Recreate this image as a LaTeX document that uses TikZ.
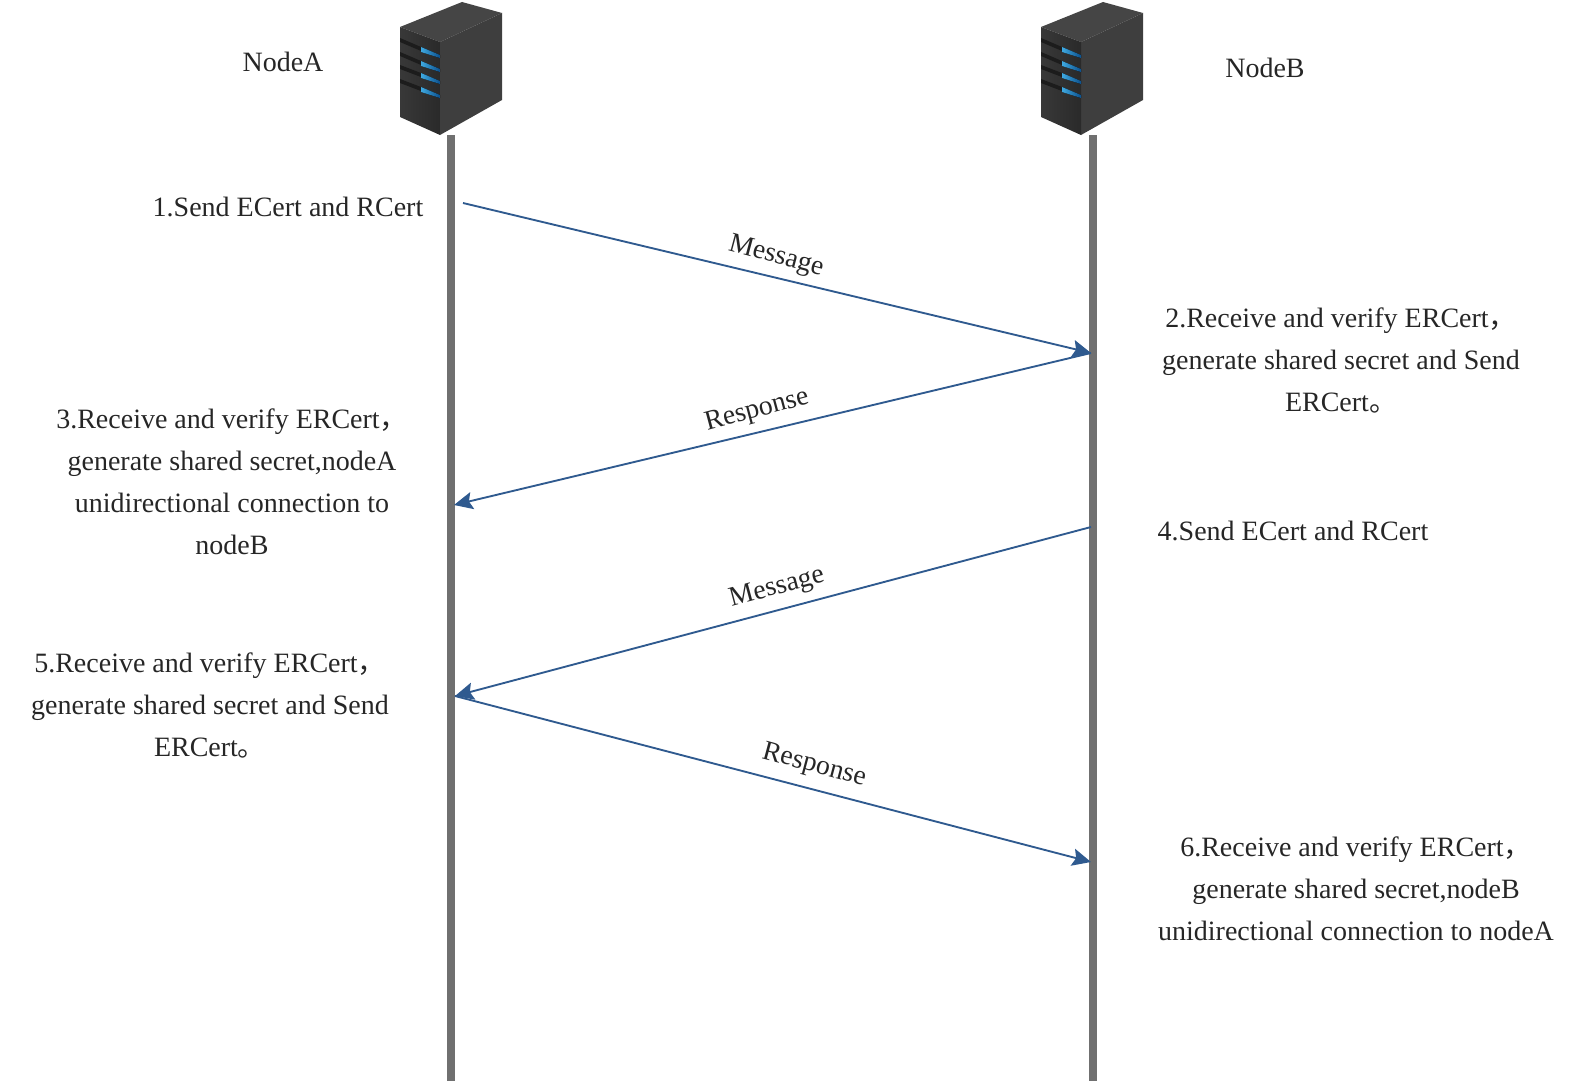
\documentclass[tikz,border=0pt]{standalone}
\usepackage{fontspec}
\setmainfont{Liberation Serif}
\newfontfamily\cjk{Noto Sans CJK SC}
\usetikzlibrary{arrows.meta}
\definecolor{txt}{HTML}{262626}
\definecolor{arrowblue}{HTML}{2F5A8F}
\definecolor{bargray}{HTML}{707070}
\definecolor{srvtop}{HTML}{454545}
\definecolor{srvside}{HTML}{3E3E3E}
\definecolor{srvfronta}{HTML}{2A2A2A}
\definecolor{srvfrontb}{HTML}{383838}
\definecolor{srvslot}{HTML}{1C1C1C}
\definecolor{ledlight}{HTML}{3FA9E0}
\definecolor{leddark}{HTML}{0B4F8C}
\newcommand{\cc}{{\cjk ，}}
\newcommand{\cp}{{\cjk 。}}
\tikzset{
  label text/.style={text=txt,font=\fontsize{21pt}{31.5pt}\selectfont,inner sep=0pt,align=center},
  msg text/.style={text=txt,font=\fontsize{20.8pt}{24pt}\selectfont,inner sep=0pt},
  lifeline/.style={draw=bargray,line width=6pt},
  msg/.style={draw=arrowblue,line width=1.4pt,-{Stealth[length=14pt,width=13pt,inset=2.5pt]}},
  slot/.style={fill=srvslot,draw=none},
  led/.style={left color=ledlight,right color=leddark,draw=none},
  pics/server/.style={code={
    \fill[srvtop] (400,27) -- (462,2) -- (502,13) -- (440,42) -- cycle;
    \fill[srvside] (440,42) -- (502,13) -- (502,100) -- (440,135) -- cycle;
    \shade[left color=srvfrontb,right color=srvfronta] (400,27) -- (440,42) -- (440,135) -- (400,117) -- cycle;
    \foreach \y/\z in {38/47,52/61,65/73,79/87}{
      \fill[slot] (400,\y) -- (421,\z) -- (421,\z+4) -- (400,\y+4) -- cycle;
      \fill[led] (421,\z) -- (440,\z+8) -- (440,\z+11) -- (421,\z+5) -- cycle;
    }
  }}
}
\begin{document}
\begin{tikzpicture}[x=0.75pt,y=-0.75pt]
\useasboundingbox (0,0) rectangle (1582,1088);
\pic at (0,0) {server};
\pic at (641,0) {server};
\coordinate (atop) at (451,135);
\coordinate (abot) at (451,1081);
\coordinate (btop) at (1093,135);
\coordinate (bbot) at (1093,1081);
\draw[lifeline] (atop) -- (abot);
\draw[lifeline] (btop) -- (bbot);
\coordinate (m1s) at (463,203);
\coordinate (m1e) at (1091,353);
\coordinate (m2e) at (454,505);
\coordinate (m3s) at (1091,527);
\coordinate (m3e) at (455,696);
\coordinate (m4e) at (1091,862);
\draw[msg] (m1s) -- (m1e);
\draw[msg] (m1e) -- (m2e);
\draw[msg] (m3s) -- (m3e);
\draw[msg] (m3e) -- (m4e);
\node[msg text,rotate=-15] (l1) at (776,257) {Message};
\node[msg text,rotate=15] (l2) at (757,411) {Response};
\node[msg text,rotate=15] (l3) at (777,588) {Message};
\node[msg text,rotate=-15] (l4) at (814,766) {Response};
\node[label text] (na) at (283,62) {NodeA};
\node[label text] (nb) at (1265,68) {NodeB};
\node[label text] (t1) at (288,207) {1.Send ECert and RCert};
\node[label text] (t2) at (1341,360) {2.Receive and verify ERCert\cc\\generate shared secret and Send\\ERCert\cp};
\node[label text] (t3) at (232,482) {3.Receive and verify ERCert\cc\\generate shared secret,nodeA\\unidirectional connection to\\nodeB};
\node[label text] (t4) at (1293,531) {4.Send ECert and RCert};
\node[label text] (t5) at (210,705) {5.Receive and verify ERCert\cc\\generate shared secret and Send\\ERCert\cp};
\node[label text] (t6) at (1356,889) {6.Receive and verify ERCert\cc\\generate shared secret,nodeB\\unidirectional connection to nodeA};
\end{tikzpicture}
\end{document}
